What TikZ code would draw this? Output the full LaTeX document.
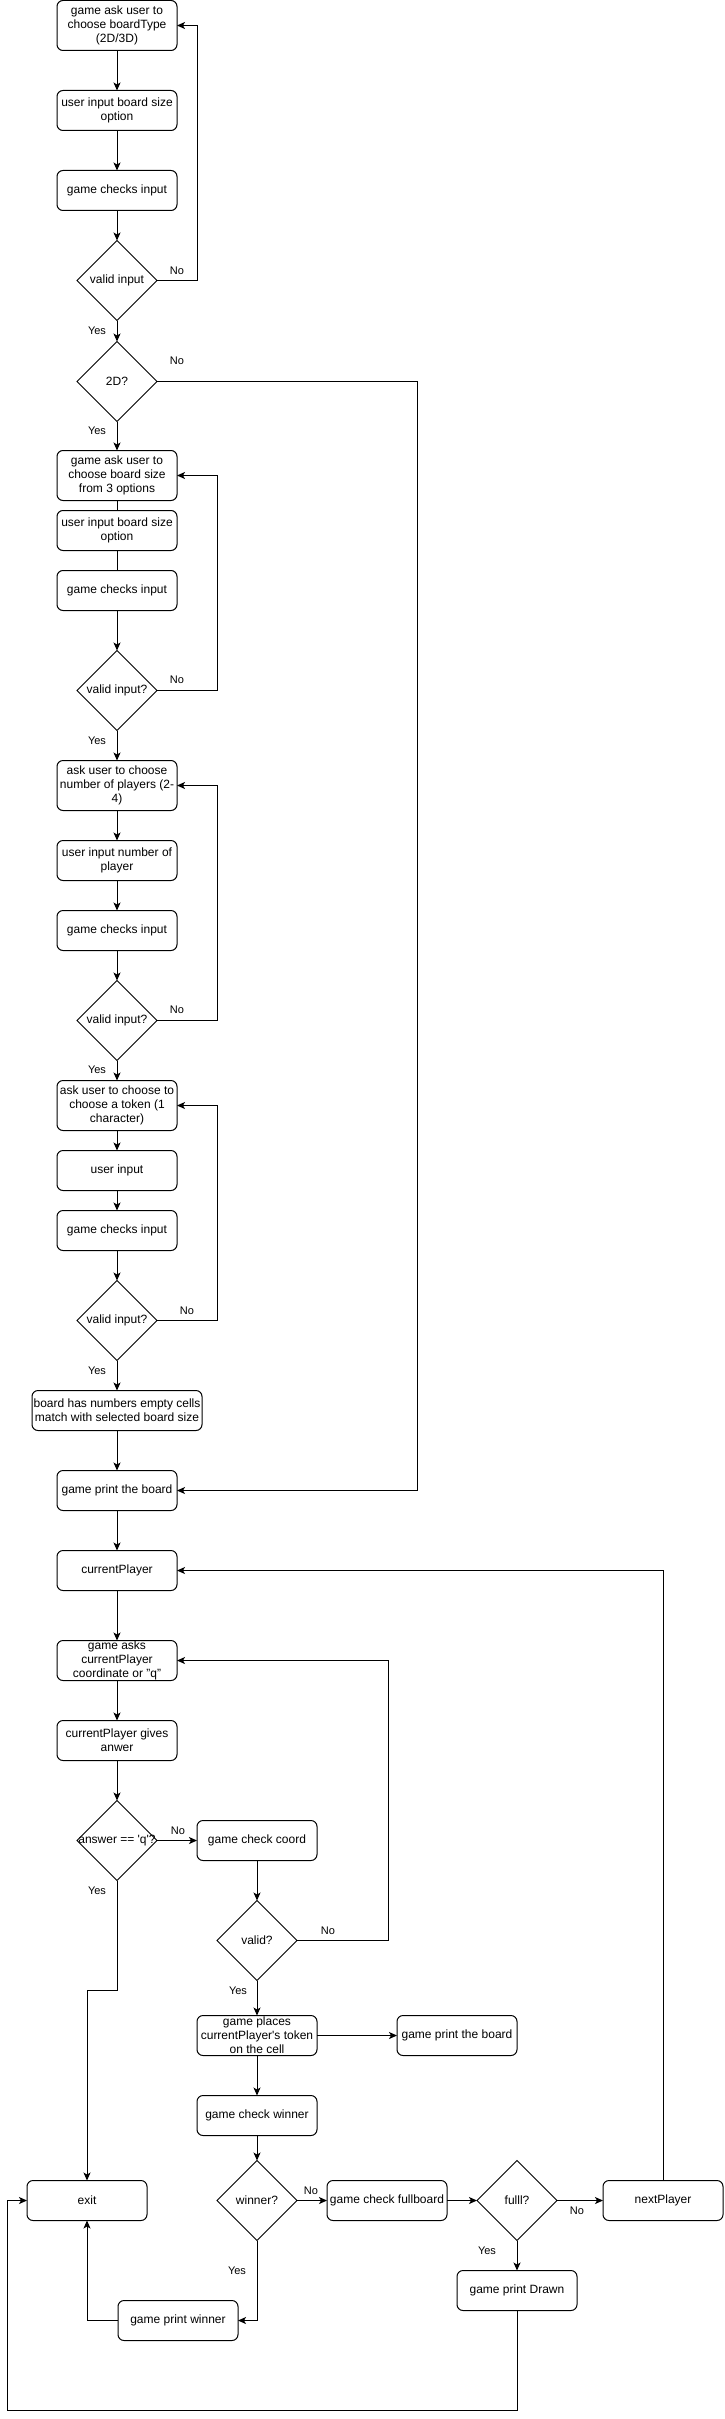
\documentclass[tikz,border=0pt]{standalone}
\usepackage{fontspec}
\setmainfont{Liberation Sans}
\usetikzlibrary{shapes.geometric, arrows.meta}
\usetikzlibrary{positioning}
\tikzstyle{process} = [rectangle, rounded corners=6pt, minimum width=120pt, minimum height=40pt, align=center, inner sep=0pt, outer sep=0pt, draw=black, font=\fontsize{12}{14}\selectfont]
\tikzstyle{tall} = [minimum height=50pt]
\tikzstyle{decision} = [diamond, draw=black, minimum width=80pt, minimum height=80pt, inner sep=0pt, outer sep=0pt, font=\fontsize{12}{14}\selectfont]
\tikzstyle{answer} = [font=\fontsize{11}{13}\selectfont]
\newcommand{\dtext}[1]{\makebox[0pt]{#1}}

\begin{document}
\begin{tikzpicture}[x=1pt, y=-1pt, line width=1pt, node distance=40pt,
  >={Stealth[length=8pt,width=7pt,inset=2pt]}]
  \useasboundingbox (0,0) rectangle (725,2419);

  % board type
  \node[process, tall] (askType) at (117,25.5) {game ask user to\\choose boardType\\(2D/3D)};
  \node[process] (inSize) [below=of askType] {user input board size\\option};
  \node[process] (chkType) [below=of inSize] {game checks input};
  \node[decision] (okType) [below=30pt of chkType] {\dtext{valid input}};
  \node[decision] (is2d) [below=21pt of okType] {\dtext{2D?}};

  % board size
  \node[process, tall] (askSize) [below=29pt of is2d] {game ask user to\\choose board size\\from 3 options};
  \node[process] (inSize2) [below=10pt of askSize] {user input board size\\option};
  \node[process] (chkSize) [below=20pt of inSize2] {game checks input};
  \node[decision] (okSize) [below=of chkSize] {\dtext{valid input?}};

  % players
  \node[process, tall] (askNum) [below=30pt of okSize] {ask user to choose\\number of players (2-\\4)};
  \node[process] (inNum) [below=30pt of askNum] {user input number of\\player};
  \node[process] (chkNum) [below=30pt of inNum] {game checks input};
  \node[decision] (okNum) [below=30pt of chkNum] {\dtext{valid input?}};

  % token
  \node[process, tall] (askTok) [below=20pt of okNum] {ask user to choose to\\choose a token (1\\character)};
  \node[process] (inTok) [below=20pt of askTok] {user input};
  \node[process] (chkTok) [below=20pt of inTok] {game checks input};
  \node[decision] (okTok) [below=30pt of chkTok] {\dtext{valid input?}};
  \node[process, minimum width=170pt] (board) [below=30pt of okTok] {board has numbers empty cells\\match with selected board size};
  \node[process] (print) [below=of board] {game print the board};

  % game loop
  \node[process] (cur) [below=of print] {currentPlayer};
  \node[process] (askCoord) [below=50pt of cur] {game asks\\currentPlayer\\coordinate or "q"};
  \node[process] (give) [below=of askCoord] {currentPlayer gives\\anwer};
  \node[decision] (isQ) [below=of give] {\dtext{answer == \textquotesingle q\textquotesingle ?}};
  \node[process] (chkCoord) [right=40pt of isQ] {game check coord};
  \node[decision] (okCoord) [below=of chkCoord] {\dtext{valid?}};
  \node[process] (place) [below=35pt of okCoord] {game places\\currentPlayer\textquotesingle s token\\on the cell};
  \node[process] (print2) [right=80pt of place] {game print the board};
  \node[process] (chkWin) [below=of place] {game check winner};
  \node[decision] (isWin) [below=25pt of chkWin] {\dtext{winner?}};
  \node[process] (chkFull) [right=30pt of isWin] {game check fullboard};
  \node[decision] (isFull) [right=30pt of chkFull] {\dtext{fulll?}};
  \node[process] (next) [right=46pt of isFull] {nextPlayer};
  \node[process] (drawn) [below=30pt of isFull] {game print Drawn};
  \node[process] (exit) at (87,2200.5) {exit};
  \node[process] (winner) at (178,2320.5) {game print winner};
  \coordinate (corner) at (7,2410);

  \foreach \n/\x/\y/\t in {n1/177/271/No, y1/97/331/Yes, n2/177/361/No, y2/97/431/Yes,
      n3/177/680/No, y3/97/741/Yes, n4/177/1010/No, y4/97/1070/Yes,
      n5/187/1311/No, y5/97/1371/Yes, n6/178/1831/No, y6/97/1891/Yes,
      n7/328/1931/No, y7/238/1991/Yes, n8/311/2191/No, y8/237/2271/Yes,
      n9/577/2211/No, y9/487/2251/Yes}
    \node[answer] (\n) at (\x,\y) {\t};

  \draw[->] (askType) -- (inSize);
  \draw[->] (inSize) -- (chkType);
  \draw[->] (chkType) -- (okType);
  \draw[->] (okType) -- (is2d);
  \draw[->] (okType.east) -- ++(40,0) |- (askType);
  \draw[->] (is2d) -- (askSize);
  \draw[->] (is2d.east) -- ++(260,0) |- (print);
  \draw (askSize) -- (inSize2);
  \draw (inSize2) -- (chkSize);
  \draw[->] (chkSize) -- (okSize);
  \draw[->] (okSize.east) -- ++(60,0) |- (askSize);
  \draw[->] (okSize) -- (askNum);
  \draw[->] (askNum) -- (inNum);
  \draw[->] (inNum) -- (chkNum);
  \draw[->] (chkNum) -- (okNum);
  \draw[->] (okNum.east) -- ++(60,0) |- (askNum);
  \draw[->] (okNum) -- (askTok);
  \draw[->] (askTok) -- (inTok);
  \draw[->] (inTok) -- (chkTok);
  \draw[->] (chkTok) -- (okTok);
  \draw[->] (okTok.east) -- ++(60,0) |- (askTok);
  \draw[->] (okTok) -- (board);
  \draw[->] (board) -- (print);
  \draw[->] (print) -- (cur);
  \draw[->] (cur) -- (askCoord);
  \draw[->] (askCoord) -- (give);
  \draw[->] (give) -- (isQ);
  \draw[->] (isQ) -- (chkCoord);
  \draw[->] (chkCoord) -- (okCoord);
  \draw[->] (okCoord.east) -- ++(91,0) |- (askCoord);
  \draw[->] (okCoord) -- (place);
  \draw[->] (place) -- (print2);
  \draw[->] (place) -- (chkWin);
  \draw[->] (chkWin) -- (isWin);
  \draw[->] (isWin) -- (chkFull);
  \draw[->] (chkFull) -- (isFull);
  \draw[->] (isFull) -- (next);
  \draw[->] (isFull) -- (drawn);
  \draw[->] (next) |- (cur);
  \draw[->] (isQ) -- ++(0,150) -| (exit);
  \draw[->] (isWin) |- (winner);
  \draw[->] (winner) -| (exit);
  \draw[->] (drawn) |- (corner) |- (exit);
\end{tikzpicture}
\end{document}
